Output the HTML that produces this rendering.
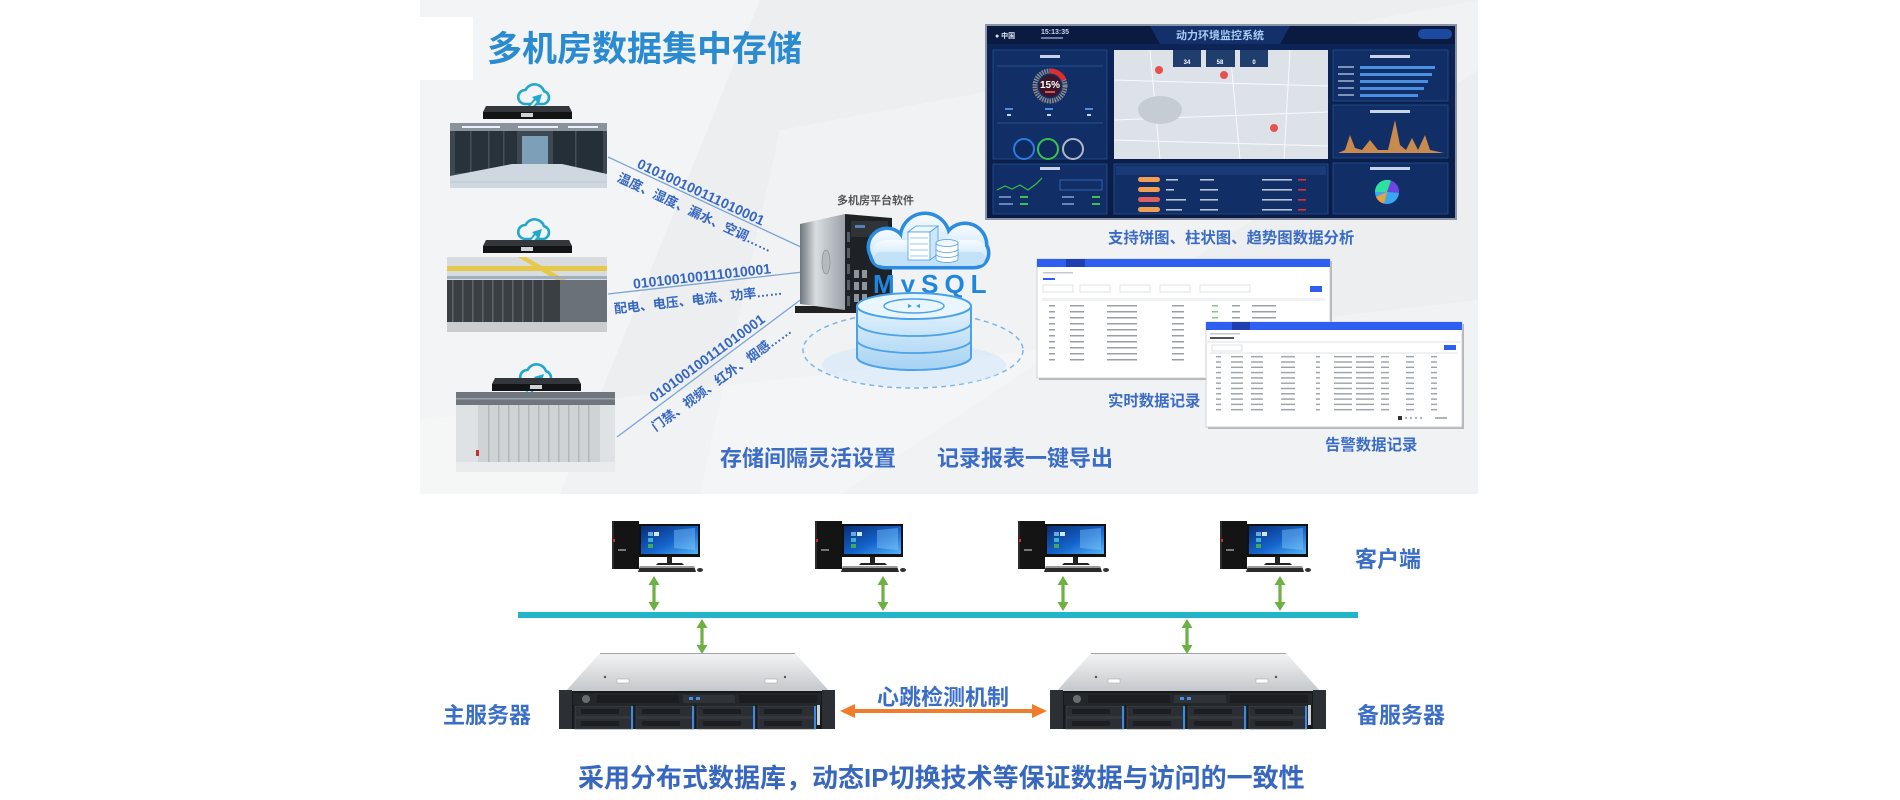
<!DOCTYPE html>
<html><head><meta charset="utf-8">
<style>
html,body{margin:0;padding:0;background:#fff;width:1900px;height:800px;overflow:hidden}
svg{display:block}
text{font-family:"Liberation Sans","Noto Sans CJK SC",sans-serif;font-weight:bold}
</style></head>
<body>
<svg width="1900" height="800" viewBox="0 0 1900 800" xmlns="http://www.w3.org/2000/svg">
<defs>
  <linearGradient id="scr" x1="0" y1="0" x2="1" y2="1">
    <stop offset="0" stop-color="#0a2c74"/><stop offset=".55" stop-color="#1464cc"/><stop offset="1" stop-color="#56b4f6"/>
  </linearGradient>
  <linearGradient id="srvTop" x1="0" y1="0" x2="0" y2="1">
    <stop offset="0" stop-color="#f3f4f5"/><stop offset="1" stop-color="#c4c7ca"/>
  </linearGradient>
  <linearGradient id="towerSide" x1="0" y1="0" x2="1" y2="0">
    <stop offset="0" stop-color="#6e757c"/><stop offset=".35" stop-color="#d9dde1"/><stop offset="1" stop-color="#9ba2a8"/>
  </linearGradient>
  <linearGradient id="cloudF" x1="0" y1="0" x2="0" y2="1">
    <stop offset="0" stop-color="#f7fbff"/><stop offset="1" stop-color="#bcdff7"/>
  </linearGradient>
  <linearGradient id="cyl" x1="0" y1="0" x2="0" y2="1">
    <stop offset="0" stop-color="#e4f3fe"/><stop offset="1" stop-color="#a6d2f3"/>
  </linearGradient>
  <linearGradient id="dashbg" x1="0" y1="0" x2="0" y2="1">
    <stop offset="0" stop-color="#0d2558"/><stop offset="1" stop-color="#0a1c46"/>
  </linearGradient>
  <pattern id="rows1" x="1037" y="303" width="293" height="6" patternUnits="userSpaceOnUse">
    <rect x="12" y="2" width="6" height="1.5" fill="#9aa0a8"/>
    <rect x="33" y="2" width="14" height="1.5" fill="#9aa0a8"/>
    <rect x="70" y="2" width="30" height="1.5" fill="#9aa0a8"/>
    <rect x="135" y="2" width="12" height="1.5" fill="#9aa0a8"/>
    <rect x="175" y="2" width="6" height="1.5" fill="#8cc08c"/>
    <rect x="195" y="2" width="8" height="1.5" fill="#9aa0a8"/>
    <rect x="215" y="2" width="24" height="1.5" fill="#9aa0a8"/>
  </pattern>
  <pattern id="rows2" x="1206" y="354" width="256" height="5.3" patternUnits="userSpaceOnUse">
    <rect x="10" y="2" width="5" height="1.4" fill="#9aa0a8"/>
    <rect x="25" y="2" width="12" height="1.4" fill="#9aa0a8"/>
    <rect x="45" y="2" width="12" height="1.4" fill="#9aa0a8"/>
    <rect x="75" y="2" width="14" height="1.4" fill="#9aa0a8"/>
    <rect x="110" y="2" width="4" height="1.4" fill="#9aa0a8"/>
    <rect x="128" y="2" width="18" height="1.4" fill="#9aa0a8"/>
    <rect x="150" y="2" width="18" height="1.4" fill="#9aa0a8"/>
    <rect x="175" y="2" width="8" height="1.4" fill="#9aa0a8"/>
    <rect x="200" y="2" width="8" height="1.4" fill="#9aa0a8"/>
    <rect x="225" y="2" width="6" height="1.4" fill="#9aa0a8"/>
  </pattern>

  <g id="pc">
    <rect x="0" y="0" width="27" height="48" fill="#141414"/>
    <rect x="0" y="0" width="2" height="48" fill="#2c2c2c"/>
    <rect x="1" y="18" width="2" height="3" fill="#d42b20"/>
    <rect x="6" y="28" width="8" height="2" fill="#777"/>
    <rect x="27" y="3" width="61" height="33" fill="#111"/>
    <rect x="29" y="5" width="57" height="28" fill="url(#scr)"/>
    <polygon points="62,9 83,7 83,29 62,27" fill="#8fd0ff" opacity=".4"/>
    <rect x="36" y="11" width="5" height="4" fill="#6aa8e0"/>
    <rect x="36" y="17" width="5" height="4" fill="#3fb0d0"/>
    <rect x="36" y="23" width="5" height="4" fill="#40a860"/>
    <rect x="42" y="11" width="5" height="4" fill="#cfe6ff"/>
    <rect x="55" y="36" width="5" height="6" fill="#222"/>
    <polygon points="46,42 70,42 72,44 44,44" fill="#222"/>
    <polygon points="28,45 82,45 84,51 26,51" fill="#2a2a2a"/>
    <polygon points="28,45 82,45 83,47 27,47" fill="#9a9a9a"/>
    <ellipse cx="88" cy="49" rx="3" ry="2" fill="#333"/>
  </g>

  <g id="srv">
    <polygon points="41,0 236,0 271,39 6,39" fill="url(#srvTop)"/>
    <line x1="41" y1="0.5" x2="236" y2="0.5" stroke="#a0a3a6" stroke-width="1"/>
    <rect x="58" y="26" width="12" height="4" fill="#fff" stroke="#aaa" stroke-width=".6"/>
    <rect x="206" y="26" width="12" height="4" fill="#fff" stroke="#aaa" stroke-width=".6"/>
    <circle cx="46" cy="24" r="1.2" fill="#555"/>
    <circle cx="226" cy="24" r="1.2" fill="#555"/>
    <rect x="0" y="38" width="276" height="38" fill="#17191c"/>
    <rect x="0" y="37" width="13" height="39" fill="#2c2f33"/>
    <rect x="263" y="37" width="13" height="39" fill="#2c2f33"/>
    <rect x="14" y="40" width="248" height="12" fill="#24272a"/>
    <rect x="38" y="42" width="82" height="8" fill="#1b1d20"/>
    <rect x="180" y="42" width="78" height="8" fill="#1b1d20"/>
    <circle cx="27" cy="46" r="4" fill="#6a6d70"/>
    <rect x="124" y="42" width="52" height="8" fill="#303338"/>
    <rect x="130" y="44" width="4" height="3" fill="#4a8ee0"/>
    <rect x="137" y="44" width="4" height="3" fill="#4a8ee0"/>
    <g fill="#2b2e32" stroke="#4a4d51" stroke-width=".6">
      <rect x="16" y="53" width="58" height="11"/><rect x="77" y="53" width="58" height="11"/>
      <rect x="138" y="53" width="58" height="11"/><rect x="199" y="53" width="58" height="11"/>
      <rect x="16" y="65" width="58" height="11"/><rect x="77" y="65" width="58" height="11"/>
      <rect x="138" y="65" width="58" height="11"/><rect x="199" y="65" width="58" height="11"/>
    </g>
    <g fill="#1c1e21">
      <rect x="22" y="56" width="38" height="5"/><rect x="83" y="56" width="38" height="5"/>
      <rect x="144" y="56" width="38" height="5"/><rect x="205" y="56" width="38" height="5"/>
      <rect x="22" y="68" width="38" height="5"/><rect x="83" y="68" width="38" height="5"/>
      <rect x="144" y="68" width="38" height="5"/><rect x="205" y="68" width="38" height="5"/>
    </g>
    <g fill="#3a8be2">
      <rect x="72" y="53" width="2" height="23"/><rect x="133" y="53" width="2" height="23"/>
      <rect x="194" y="53" width="2" height="23"/><rect x="255" y="53" width="2" height="23"/>
    </g>
    <rect x="258" y="52" width="3" height="20" fill="#cfd2d5"/>
  </g>

  <g id="garrow" fill="#6db043">
    <rect x="-1.6" y="7" width="3.2" height="21"/>
    <polygon points="0,0 -5.5,9 5.5,9"/>
    <polygon points="0,35 -5.5,26 5.5,26"/>
  </g>

  <g id="cic">
    <path d="M10 21 H28 A6.5 6.5 0 0 0 29 8.2 A10 10 0 0 0 10.5 7 A7 7 0 0 0 10 21 Z" fill="none" stroke="#22a8ca" stroke-width="2.6" stroke-linejoin="round"/>
    <line x1="11" y1="30" x2="22" y2="17" stroke="#22a8ca" stroke-width="6"/>
    <line x1="11" y1="30" x2="22" y2="17" stroke="#eef4f6" stroke-width="2.4"/>
    <polygon points="27,11 17,14 24,21" fill="#22a8ca"/>
  </g>

  <g id="rack">
    <polygon points="3,0 86,0 89,6 0,6" fill="#33373b"/>
    <rect x="0" y="6" width="89" height="7" fill="#121416"/>
    <rect x="38" y="7" width="12" height="4" fill="#cfd3d6"/>
  </g>
</defs>

<!-- ============ TOP PANEL ============ -->
<rect x="420" y="0" width="1058" height="494" fill="#eceef0"/>
<polygon points="420,0 760,0 560,494 420,494" fill="#fff" opacity=".35"/>
<polygon points="780,130 1478,0 1478,70 840,494 700,494" fill="#fff" opacity=".28"/>
<polygon points="420,420 1478,300 1478,494 420,494" fill="#fff" opacity=".25"/>
<rect x="420" y="17" width="53" height="63" fill="#fff"/>

<text x="487" y="61" font-size="35" fill="#2a8bd0">多机房数据集中存储</text>

<!-- Room 1 -->
<use href="#cic" x="515" y="83"/>
<use href="#rack" x="483" y="106"/>
<g>
  <rect x="450" y="123" width="157" height="65" fill="#3e4852"/>
  <rect x="450" y="123" width="157" height="8" fill="#8a939b"/>
  <rect x="462" y="126" width="38" height="2" fill="#eef"/>
  <rect x="518" y="126" width="40" height="2" fill="#eef"/>
  <rect x="568" y="126" width="30" height="2" fill="#eef"/>
  <rect x="522" y="136" width="26" height="28" fill="#7d9fb8"/>
  <rect x="455" y="131" width="62" height="42" fill="#28323b"/>
  <rect x="470" y="131" width="1.5" height="42" fill="#44505b"/>
  <rect x="488" y="131" width="1.5" height="42" fill="#44505b"/>
  <rect x="503" y="131" width="1.5" height="42" fill="#44505b"/>
  <rect x="553" y="131" width="50" height="42" fill="#252f38"/>
  <rect x="575" y="131" width="1.5" height="42" fill="#44505b"/>
  <polygon points="450,188 607,188 607,174 562,164 512,164 450,176" fill="#cfd8e0"/>
  <line x1="450" y1="182" x2="607" y2="182" stroke="#b8c2cc" stroke-width=".8"/>
</g>

<!-- Room 2 -->
<use href="#cic" x="515" y="218"/>
<use href="#rack" x="483" y="240"/>
<g>
  <rect x="447" y="257" width="160" height="75" fill="#3a3f44"/>
  <rect x="447" y="257" width="160" height="23" fill="#d9dcde"/>
  <rect x="447" y="266" width="160" height="5" fill="#e6c84a"/>
  <polygon points="518,257 526,257 566,280 556,280" fill="#e6c84a"/>
  <rect x="447" y="276" width="160" height="3" fill="#9fb0c0"/>
  <g fill="#5e646a">
    <rect x="452" y="280" width="1.5" height="42"/><rect x="462" y="280" width="1.5" height="42"/>
    <rect x="472" y="280" width="1.5" height="42"/><rect x="482" y="280" width="1.5" height="42"/>
    <rect x="492" y="280" width="1.5" height="42"/><rect x="502" y="280" width="1.5" height="42"/>
    <rect x="512" y="280" width="1.5" height="42"/><rect x="522" y="280" width="1.5" height="42"/>
    <rect x="532" y="280" width="1.5" height="42"/><rect x="542" y="280" width="1.5" height="42"/>
  </g>
  <rect x="560" y="280" width="47" height="42" fill="#6b7178"/>
  <rect x="447" y="322" width="160" height="10" fill="#c9cdd0"/>
</g>

<!-- Room 3 -->
<use href="#cic" x="517" y="363"/>
<use href="#rack" x="492" y="378"/>
<g>
  <rect x="456" y="392" width="159" height="80" fill="#dfe2e4"/>
  <rect x="456" y="392" width="159" height="13" fill="#6f7680"/>
  <rect x="456" y="398" width="159" height="1.5" fill="#9aa2aa"/>
  <rect x="478" y="405" width="122" height="60" fill="#cfd3d6"/>
  <g fill="#b2b7bb">
    <rect x="488" y="405" width="1.5" height="60"/><rect x="498" y="405" width="1.5" height="60"/>
    <rect x="508" y="405" width="1.5" height="60"/><rect x="518" y="405" width="1.5" height="60"/>
    <rect x="528" y="405" width="1.5" height="60"/><rect x="538" y="405" width="1.5" height="60"/>
    <rect x="548" y="405" width="1.5" height="60"/><rect x="558" y="405" width="1.5" height="60"/>
    <rect x="568" y="405" width="1.5" height="60"/><rect x="578" y="405" width="1.5" height="60"/>
    <rect x="588" y="405" width="1.5" height="60"/>
  </g>
  <rect x="456" y="462" width="159" height="10" fill="#e9ebec"/>
  <rect x="476" y="450" width="3" height="6" fill="#c83030"/>
</g>

<!-- connecting lines -->
<g stroke="#7aa6d6" stroke-width="1.3">
  <line x1="608" y1="157" x2="803" y2="248"/>
  <line x1="608" y1="294" x2="803" y2="272"/>
  <line x1="617" y1="437" x2="803" y2="298"/>
</g>
<g fill="#3567c2" text-anchor="middle">
  <text x="701" y="197" font-size="14" transform="rotate(25 701 192)">010100100111010001</text>
  <text x="695" y="217" font-size="13" transform="rotate(25 695 212)">温度、湿度、漏水、空调……</text>
  <text x="702" y="281" font-size="14" transform="rotate(-6.4 702 276)">010100100111010001</text>
  <text x="698" y="304" font-size="13" transform="rotate(-6.4 698 299)">配电、电压、电流、功率……</text>
  <text x="707" y="363" font-size="14" transform="rotate(-36 707 358)">010100100111010001</text>
  <text x="721" y="383" font-size="13" transform="rotate(-36 721 378)">门禁、视频、红外、烟感……</text>
</g>

<!-- platform server + MySQL -->
<text x="837" y="204" font-size="11" fill="#555">多机房平台软件</text>
<ellipse cx="913" cy="350" rx="110" ry="38" fill="none" stroke="#7ab6e8" stroke-width="1.5" stroke-dasharray="5 4"/>
<ellipse cx="914" cy="365" rx="92" ry="22" fill="#d3e8f8" opacity=".6"/>
<rect x="795" y="306" width="98" height="7" fill="#222"/>
<polygon points="800,224 845,214 845,310 800,304" fill="url(#towerSide)"/>
<ellipse cx="826" cy="262" rx="4" ry="12" fill="#b5babf" stroke="#8d949a" stroke-width=".8"/>
<polygon points="845,214 892,218 892,308 845,310" fill="#1e2226"/>
<rect x="851" y="221" width="37" height="16" fill="#2f3438"/>
<rect x="855" y="225" width="10" height="3" fill="#5a7fb8"/>
<g fill="#555b60">
  <rect x="847" y="232" width="3" height="10"/><rect x="847" y="248" width="3" height="10"/>
  <rect x="847" y="264" width="3" height="10"/><rect x="847" y="280" width="3" height="10"/>
  <rect x="847" y="296" width="3" height="10"/>
</g>
<g fill="#8d959c">
  <rect x="854" y="270" width="5" height="8"/><rect x="862" y="270" width="5" height="8"/>
  <rect x="854" y="282" width="5" height="8"/><rect x="862" y="282" width="5" height="8"/>
  <rect x="854" y="294" width="5" height="8"/><rect x="862" y="294" width="5" height="8"/>
</g>
<g fill="#2b8ce0">
  <circle cx="887" cy="247" r="20.5"/><circle cx="925" cy="238" r="26.5"/>
  <circle cx="965" cy="245" r="23.5"/><rect x="868.5" y="236.5" width="122" height="33" rx="16"/>
</g>
<g fill="url(#cloudF)">
  <circle cx="887" cy="247" r="17"/><circle cx="925" cy="238" r="23"/>
  <circle cx="965" cy="245" r="20"/><rect x="872" y="240" width="115" height="26" rx="13"/>
</g>
<rect x="874" y="252" width="111" height="13" rx="6" fill="#c3e2f8"/>
<polygon points="908,232 916,226 938,226 930,232" fill="#eef7ff" stroke="#4a9fe6" stroke-width=".8"/>
<rect x="908" y="232" width="22" height="28" fill="#fff" stroke="#4a9fe6" stroke-width=".8"/>
<polygon points="930,232 938,226 938,254 930,260" fill="#cfe6fa" stroke="#4a9fe6" stroke-width=".8"/>
<g stroke="#7ab8ec" stroke-width=".8">
  <line x1="910" y1="238" x2="928" y2="238"/><line x1="910" y1="244" x2="928" y2="244"/>
  <line x1="910" y1="250" x2="928" y2="250"/><line x1="910" y1="256" x2="928" y2="256"/>
</g>
<path d="M936,243 V259 A11,3.5 0 0 0 958,259 V243 Z" fill="#fff" stroke="#4a9fe6" stroke-width=".8"/>
<ellipse cx="947" cy="243" rx="11" ry="3.5" fill="#eef7ff" stroke="#4a9fe6" stroke-width=".8"/>
<path d="M936,249 A11,3.5 0 0 0 958,249 M936,254 A11,3.5 0 0 0 958,254" fill="none" stroke="#4a9fe6" stroke-width=".8"/>
<text x="873" y="293" font-size="26" letter-spacing="6" fill="#1f86e0">MySQL</text>
<path d="M857,306 V357 A57,13 0 0 0 971,357 V306 Z" fill="url(#cyl)" stroke="#4aa2ea" stroke-width="2"/>
<path d="M857,323 A57,13 0 0 0 971,323 M857,340 A57,13 0 0 0 971,340" fill="none" stroke="#4aa2ea" stroke-width="1.8"/>
<ellipse cx="914" cy="306" rx="57" ry="13" fill="#eaf6ff" stroke="#4aa2ea" stroke-width="2"/>
<ellipse cx="914" cy="306" rx="30" ry="7" fill="none" stroke="#4aa2ea" stroke-width="1.5"/>
<g fill="#3a9ae6"><polygon points="908,304 912,306 908,308"/><polygon points="920,304 916,306 920,308"/></g>

<text x="720" y="466" font-size="22" fill="#3b6cc6">存储间隔灵活设置</text>
<text x="937" y="466" font-size="22" fill="#3b6cc6">记录报表一键导出</text>

<!-- ============ DASHBOARD ============ -->
<rect x="985" y="24" width="472" height="196" fill="#8a94a6"/>
<rect x="987" y="26" width="468" height="192" fill="url(#dashbg)"/>
<rect x="987" y="26" width="468" height="18" fill="#0a1a40"/>
<polygon points="1150,26 1290,26 1280,44 1160,44" fill="#13306a"/>
<text x="1220" y="39" font-size="11" fill="#a8cdf5" text-anchor="middle" font-weight="normal">动力环境监控系统</text>
<text x="995" y="38" font-size="7" fill="#dde4f0" font-weight="normal">● 中国</text>
<text x="1041" y="34" font-size="7" fill="#cdd8ea" font-weight="normal">15:13:35</text>
<rect x="1041" y="37" width="22" height="2" fill="#6a7c9c"/>
<rect x="1418" y="29" width="34" height="10" rx="5" fill="#1c4aa0"/>
<g fill="#112e66" stroke="#24508f" stroke-width=".8">
  <rect x="993" y="50" width="114" height="109"/>
  <rect x="993" y="164" width="114" height="50"/>
  <rect x="1114" y="164" width="214" height="50"/>
  <rect x="1333" y="50" width="115" height="51"/>
  <rect x="1333" y="105" width="115" height="53"/>
  <rect x="1333" y="163" width="115" height="51"/>
</g>
<rect x="1040" y="55" width="20" height="3" fill="#c8d4e8"/>
<line x1="997" y1="66" x2="1103" y2="66" stroke="#35609e" stroke-width=".8"/>
<circle cx="1050" cy="86" r="15" fill="none" stroke="#8e8e8e" stroke-width="5" stroke-dasharray="1.5 1"/>
<path d="M1050,71 A15,15 0 0 1 1064,80" fill="none" stroke="#e02c2c" stroke-width="5"/>
<circle cx="1050" cy="86" r="11" fill="#3d1528"/>
<text x="1050" y="88" font-size="10" fill="#fff" text-anchor="middle">15%</text>
<rect x="1045" y="91" width="10" height="2" fill="#e05050"/>
<g fill="#4a8ee0"><rect x="1005" y="108" width="8" height="2"/><rect x="1045" y="108" width="8" height="2"/><rect x="1085" y="108" width="8" height="2"/></g>
<g fill="#c8d4e8"><rect x="1007" y="114" width="4" height="2"/><rect x="1047" y="114" width="4" height="2"/><rect x="1087" y="114" width="4" height="2"/></g>
<line x1="997" y1="123" x2="1103" y2="123" stroke="#35609e" stroke-width=".8"/>
<circle cx="1024" cy="149" r="10" fill="#0f2a5e" stroke="#2d7be0" stroke-width="2"/>
<circle cx="1048" cy="149" r="10" fill="#0f2a5e" stroke="#3cc04a" stroke-width="2"/>
<circle cx="1073" cy="149" r="10" fill="#0f2a5e" stroke="#b0b8c8" stroke-width="2"/>
<rect x="1040" y="167" width="20" height="3" fill="#c8d4e8"/>
<polyline points="997,190 1005,186 1012,189 1020,185 1028,190 1036,184 1042,178" fill="none" stroke="#3cc04a" stroke-width="1.2"/>
<rect x="1060" y="180" width="42" height="10" fill="none" stroke="#3a70c0" stroke-width=".8"/>
<g fill="#3cc04a"><rect x="1020" y="196" width="8" height="2"/><rect x="1020" y="203" width="8" height="2"/><rect x="1092" y="196" width="8" height="2"/><rect x="1092" y="203" width="8" height="2"/></g>
<g fill="#6a86b8"><rect x="999" y="196" width="12" height="2"/><rect x="999" y="203" width="14" height="2"/><rect x="1062" y="196" width="12" height="2"/><rect x="1062" y="203" width="12" height="2"/></g>
<rect x="1114" y="50" width="214" height="109" fill="#dde2e8"/>
<g stroke="#fff" stroke-width="1" opacity=".8">
  <line x1="1114" y1="80" x2="1328" y2="86"/><line x1="1114" y1="120" x2="1328" y2="112"/>
  <line x1="1150" y1="50" x2="1160" y2="159"/><line x1="1230" y1="50" x2="1240" y2="159"/>
  <line x1="1290" y1="50" x2="1284" y2="159"/><line x1="1114" y1="140" x2="1328" y2="146"/>
</g>
<ellipse cx="1160" cy="110" rx="22" ry="14" fill="#c5cdd3"/>
<g fill="#203d6e">
  <rect x="1173" y="50" width="28" height="17"/><rect x="1206" y="50" width="29" height="17"/><rect x="1240" y="50" width="28" height="17"/>
</g>
<g fill="#fff" font-size="6" text-anchor="middle" font-weight="normal">
  <text x="1187" y="64">34</text><text x="1220" y="64">58</text><text x="1254" y="64">0</text>
</g>
<g fill="#e85050"><circle cx="1159" cy="70" r="4"/><circle cx="1224" cy="75" r="4"/><circle cx="1274" cy="128" r="4"/></g>
<rect x="1116" y="166" width="210" height="9" fill="#1a3a78"/>
<g fill="#f0a050">
  <rect x="1138" y="177" width="22" height="5" rx="2.5"/><rect x="1138" y="187" width="22" height="5" rx="2.5"/>
  <rect x="1138" y="207" width="22" height="5" rx="2.5"/>
</g>
<rect x="1138" y="197" width="22" height="5" rx="2.5" fill="#e06060"/>
<g fill="#b8c4d8">
  <rect x="1166" y="179" width="12" height="1.6"/><rect x="1166" y="189" width="8" height="1.6"/><rect x="1166" y="199" width="20" height="1.6"/><rect x="1166" y="209" width="16" height="1.6"/>
  <rect x="1200" y="179" width="14" height="1.6"/><rect x="1200" y="189" width="18" height="1.6"/><rect x="1200" y="199" width="18" height="1.6"/><rect x="1200" y="209" width="18" height="1.6"/>
  <rect x="1262" y="179" width="30" height="1.6"/><rect x="1262" y="189" width="30" height="1.6"/><rect x="1262" y="199" width="30" height="1.6"/><rect x="1262" y="209" width="30" height="1.6"/>
</g>
<g fill="#e03030"><rect x="1298" y="179" width="8" height="1.6"/><rect x="1298" y="189" width="8" height="1.6"/><rect x="1298" y="199" width="8" height="1.6"/><rect x="1298" y="209" width="8" height="1.6"/></g>
<rect x="1370" y="55" width="40" height="3" fill="#c8d4e8"/>
<g fill="#4a8fe0">
  <rect x="1360" y="66" width="75" height="3"/><rect x="1360" y="73" width="72" height="3"/>
  <rect x="1360" y="80" width="68" height="3"/><rect x="1360" y="87" width="64" height="3"/>
  <rect x="1360" y="94" width="58" height="3"/>
</g>
<g fill="#7d93b8">
  <rect x="1338" y="66" width="16" height="2"/><rect x="1338" y="73" width="16" height="2"/>
  <rect x="1338" y="80" width="16" height="2"/><rect x="1338" y="87" width="16" height="2"/>
  <rect x="1338" y="94" width="16" height="2"/>
</g>
<rect x="1370" y="110" width="40" height="3" fill="#c8d4e8"/>
<path d="M1338,153 L1345,150 L1350,135 L1355,148 L1362,150 L1370,140 L1378,150 L1388,150 L1395,120 L1400,145 L1406,150 L1412,138 L1418,150 L1425,135 L1430,150 L1444,153 Z" fill="#c98a4d"/>
<rect x="1370" y="167" width="40" height="3" fill="#c8d4e8"/>
<circle cx="1387" cy="192" r="12" fill="#3aa8f0"/>
<path d="M1387,192 L1375,192 A12,12 0 0 1 1391,180.6 Z" fill="#2fe0a0"/>
<path d="M1387,192 L1391,180.6 A12,12 0 0 1 1399,193 Z" fill="#6a48e0"/>
<path d="M1387,192 L1384,203.6 A12,12 0 0 1 1376,197 Z" fill="#e8a040"/>

<text x="1108" y="243" font-size="15.4" fill="#3b6cc6">支持饼图、柱状图、趋势图数据分析</text>

<!-- ============ TABLES ============ -->
<rect x="1039" y="261" width="293" height="119" fill="#b4b8bd"/>
<rect x="1037" y="259" width="293" height="119" fill="#fff" stroke="#c8c8c8" stroke-width=".8"/>
<rect x="1037" y="259" width="293" height="8" fill="#2f5ff0"/>
<rect x="1066" y="259" width="19" height="8" fill="#1d3fb0"/>
<g fill="#c4c8cc">
  <rect x="1043" y="272" width="30" height="1.5"/><rect x="1043" y="285" width="30" height="7" fill="none" stroke="#d4d8dc" stroke-width=".7"/>
  <rect x="1080" y="285" width="30" height="7" fill="none" stroke="#d4d8dc" stroke-width=".7"/>
  <rect x="1120" y="285" width="30" height="7" fill="none" stroke="#d4d8dc" stroke-width=".7"/>
  <rect x="1160" y="285" width="30" height="7" fill="none" stroke="#d4d8dc" stroke-width=".7"/>
  <rect x="1200" y="285" width="50" height="7" fill="none" stroke="#d4d8dc" stroke-width=".7"/>
</g>
<rect x="1043" y="278" width="12" height="2" fill="#2f5ff0"/>
<rect x="1310" y="286" width="12" height="6" fill="#2f5ff0"/>
<rect x="1042" y="298" width="283" height="3" fill="#f0f1f3"/>
<rect x="1037" y="303" width="293" height="60" fill="url(#rows1)"/>

<rect x="1208" y="324" width="256" height="105" fill="#b4b8bd"/>
<rect x="1206" y="322" width="256" height="105" fill="#fff" stroke="#c8c8c8" stroke-width=".8"/>
<rect x="1206" y="322" width="256" height="8" fill="#2f5ff0"/>
<rect x="1232" y="322" width="18" height="8" fill="#1d3fb0"/>
<rect x="1210" y="333" width="30" height="1.5" fill="#c4c8cc"/>
<rect x="1210" y="337" width="24" height="2" fill="#555"/>
<rect x="1206" y="341" width="256" height="2" fill="#eef0f2"/>
<rect x="1212" y="345" width="30" height="6" fill="none" stroke="#d4d8dc" stroke-width=".7"/>
<rect x="1444" y="345" width="12" height="5" fill="#2f5ff0"/>
<rect x="1210" y="352" width="248" height="2" fill="#f0f1f3"/>
<rect x="1206" y="354" width="256" height="58" fill="url(#rows2)"/>
<rect x="1398" y="416" width="4" height="4" fill="#333"/>
<g fill="#b0b4b8"><rect x="1405" y="417" width="2" height="2"/><rect x="1410" y="417" width="2" height="2"/><rect x="1415" y="417" width="2" height="2"/><rect x="1420" y="417" width="2" height="2"/><rect x="1435" y="417" width="12" height="2"/></g>

<text x="1108" y="406" font-size="15.4" fill="#3b6cc6">实时数据记录</text>
<text x="1325" y="450" font-size="15.4" fill="#3b6cc6">告警数据记录</text>

<!-- ============ BOTTOM NETWORK ============ -->
<use href="#pc" x="612" y="521"/>
<use href="#pc" x="815" y="521"/>
<use href="#pc" x="1018" y="521"/>
<use href="#pc" x="1220" y="521"/>

<use href="#garrow" x="654" y="576"/>
<use href="#garrow" x="883" y="576"/>
<use href="#garrow" x="1063" y="576"/>
<use href="#garrow" x="1280" y="576"/>

<rect x="518" y="612" width="840" height="6" fill="#22b5c9"/>

<use href="#garrow" x="702" y="619"/>
<use href="#garrow" x="1187" y="619"/>

<use href="#srv" x="559" y="653"/>
<use href="#srv" x="1050" y="653"/>

<rect x="852" y="709" width="183" height="4" fill="#f07c2c"/>
<polygon points="840,711 855,704 855,718" fill="#f07c2c"/>
<polygon points="1047,711 1032,704 1032,718" fill="#f07c2c"/>

<text x="1355" y="567" font-size="22" fill="#3b6ec6">客户端</text>
<text x="443" y="723" font-size="22" fill="#3b6ec6">主服务器</text>
<text x="1357" y="723" font-size="22" fill="#3b6ec6">备服务器</text>
<text x="877" y="705" font-size="22" fill="#3b6ec6">心跳检测机制</text>

<text x="578" y="787" font-size="26" fill="#3768be">采用分布式数据库，动态IP切换技术等保证数据与访问的一致性</text>
</svg>
</body></html>
